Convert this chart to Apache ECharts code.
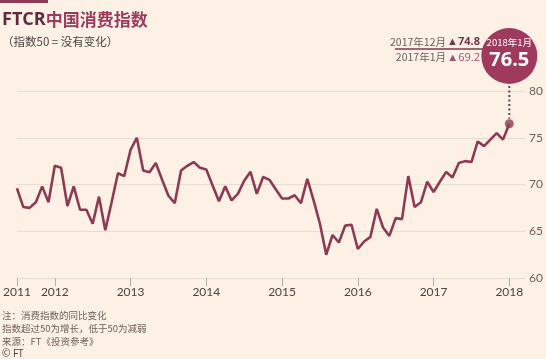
<!DOCTYPE html>
<html><head><meta charset="utf-8">
<script src="https://cdn.jsdelivr.net/npm/echarts@6/dist/echarts.min.js"></script>
<style>html,body{margin:0;padding:0;background:#fdf1e6;}#c{width:546px;height:359px;}</style>
</head><body><div id="c"></div>
<script>
// Monthly, Jul 2011 .. Jan 2018 (index 0 = 2011-07)
const months = [
 '2011-07','2011-08','2011-09','2011-10','2011-11','2011-12',
 '2012-01','2012-02','2012-03','2012-04','2012-05','2012-06','2012-07','2012-08','2012-09','2012-10','2012-11','2012-12',
 '2013-01','2013-02','2013-03','2013-04','2013-05','2013-06','2013-07','2013-08','2013-09','2013-10','2013-11','2013-12',
 '2014-01','2014-02','2014-03','2014-04','2014-05','2014-06','2014-07','2014-08','2014-09','2014-10','2014-11','2014-12',
 '2015-01','2015-02','2015-03','2015-04','2015-05','2015-06','2015-07','2015-08','2015-09','2015-10','2015-11','2015-12',
 '2016-01','2016-02','2016-03','2016-04','2016-05','2016-06','2016-07','2016-08','2016-09','2016-10','2016-11','2016-12',
 '2017-01','2017-02','2017-03','2017-04','2017-05','2017-06','2017-07','2017-08','2017-09','2017-10','2017-11','2017-12',
 '2018-01'
];
const values = [
 69.6,67.6,67.5,68.1,69.8,68.1,
 72.0,71.8,67.7,69.8,67.3,67.3,65.8,68.7,65.1,68.1,71.2,70.9,
 73.7,75.0,71.5,71.3,72.3,70.5,68.8,68.0,71.5,72.0,72.4,71.8,
 71.6,69.9,68.2,69.8,68.3,69.0,70.4,71.35,69.0,70.8,70.5,69.5,
 68.5,68.5,68.85,68.0,70.6,68.3,65.8,62.5,64.6,63.8,65.6,65.7,
 63.1,63.9,64.4,67.4,65.4,64.5,66.4,66.3,70.9,67.6,68.1,70.3,
 69.2,70.3,71.35,70.75,72.3,72.5,72.4,74.6,74.1,74.8,75.5,74.8,
 76.5
];
const yearTickMonths = ['2011-07','2012-01','2013-01','2014-01','2015-01','2016-01','2017-01','2018-01'];
const yearLabels = ['2011','2012','2013','2014','2015','2016','2017','2018'];
const yTickValues = [60,65,70,75,80];
const subtitle = '（指数50 = 没有变化）';
const notes = ['注：消费指数的同比变化','指数超过50为增长，低于50为减弱','来源：FT《投资参考》','© FT'];
const callouts = [
  {label:'2017年12月', month:'2017-12'},
  {label:'2017年1月', month:'2017-01'}
];
const lastLabel = '2018年1月';

const CLARET = '#8e3a55';
const chart = echarts.init(document.getElementById('c'));
const seriesData = values.map((v,i)=>[i,v]);
const tickIdx = yearTickMonths.map(m=>months.indexOf(m));
const lastI = values.length-1;

chart.setOption({
  backgroundColor:'#fdf1e6',
  animation:false,
  grid:{left:12.3,right:20,top:91,bottom:81},
  xAxis:{type:'value',min:0,max:80.5,
    axisLine:{show:false},splitLine:{show:false},
    axisTick:{show:true,customValues:tickIdx,length:8,lineStyle:{color:'#b9ada4',width:1}},
    axisLabel:{customValues:tickIdx,margin:8,color:'#4a4542',fontSize:12,fontFamily:'Lato',
      formatter:v=>{const k=tickIdx.indexOf(Math.round(v));return k>=0?yearLabels[k]:'';}}
  },
  yAxis:{type:'value',position:'right',min:60,max:80,interval:5,
    axisLine:{show:false},axisTick:{show:false},
    splitLine:{lineStyle:{color:'#e9dcd0',width:1}},
    axisLabel:{margin:4,color:'#6b625c',fontSize:12,fontFamily:'Lato',
      formatter:v=>yTickValues.includes(v)?String(v):''}
  },
  series:[
    {type:'line',data:seriesData,symbol:'none',lineStyle:{color:CLARET,width:2.6},z:3},
    {type:'scatter',data:[seriesData[lastI]],symbolSize:9,itemStyle:{color:CLARET},z:4}
  ]
});

const p = chart.convertToPixel({gridIndex:0},[lastI,values[lastI]]);
const cx = p[0], cy = 56, r = 28;
const gray = '#6b625c';
const g = [
  {type:'rect',shape:{x:0,y:0,width:48,height:3},style:{fill:CLARET}},
  {type:'text',x:2,y:20,style:{text:'{a|FTCR}{b|中国消费指数}',textVerticalAlign:'middle',
    rich:{a:{font:'bold 18px "Open Sans", sans-serif',fill:'#5e2b40'},b:{font:'bold 17px "Noto Sans CJK SC"',fill:'#9b3a5c'}}}},
  {type:'text',x:2,y:42,style:{text:subtitle,font:'11.5px "Noto Sans CJK SC"',fill:'#4a4542',textVerticalAlign:'middle'}},
  {type:'line',shape:{x1:cx,y1:cy+r+2,x2:cx,y2:p[1]-5},style:{stroke:'#6e3a4e',lineWidth:2,lineDash:[2,2.5]}},
  {type:'line',shape:{x1:395,y1:49,x2:cx-r+2,y2:49},style:{stroke:'#7a3a50',lineWidth:1.5}},
  {type:'circle',shape:{cx:cx,cy:cy,r:r},style:{fill:'#a03a5d'}},
  {type:'text',x:cx,y:42,style:{text:lastLabel,font:'9.5px "Noto Sans CJK SC"',fill:'#fff',textAlign:'center',textVerticalAlign:'middle'}},
  {type:'text',x:cx,y:60,style:{text:values[lastI].toFixed(1),font:'bold 20px "Open Sans", sans-serif',fill:'#fff',textAlign:'center',textVerticalAlign:'middle'}}
];
callouts.forEach((c,k)=>{
  const v = values[months.indexOf(c.month)];
  const yy = k===0?42:57.5;
  g.push({type:'text',x:446,y:yy,style:{text:c.label,font:'10.5px "Noto Sans CJK SC"',fill:gray,textAlign:'right',textVerticalAlign:'middle'}});
  g.push({type:'text',x:480,y:yy,style:{text:'▲'+v.toFixed(1),font:(k===0?'bold ':'')+'11px "Open Sans", sans-serif',fill:k===0?'#7a2f4a':'#a0506a',textAlign:'right',textVerticalAlign:'middle'}});
});
notes.forEach((t,k)=>{
  g.push({type:'text',x:2,y:315+k*13,style:{text:t,font:(k===3?'10px "Open Sans"':'9.5px "Noto Sans CJK SC"'),fill:k===3?'#4a4542':'#6b625c',textVerticalAlign:'middle'}});
});
chart.setOption({graphic:g});
</script></body></html>
